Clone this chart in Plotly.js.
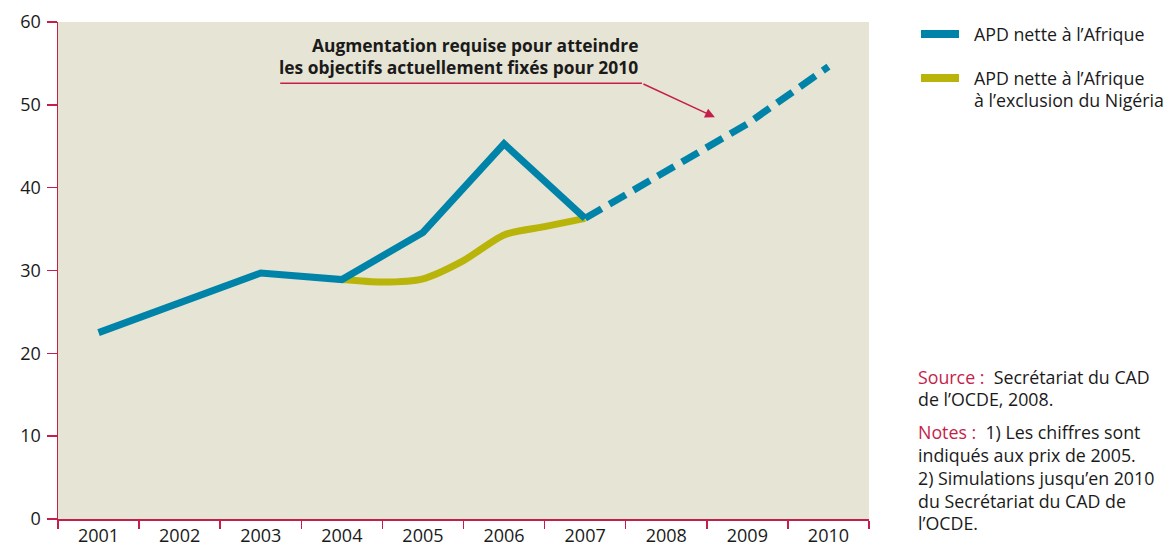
<!DOCTYPE html>
<html>
<head>
<meta charset="utf-8">
<script src="https://cdn.plot.ly/plotly-3.0.1.min.js"></script>
<style>html,body{margin:0;padding:0;background:#fff;}#chart{width:1166px;height:546px;}</style>
</head>
<body>
<div id="chart"></div>
<script>
// ---- data ----
const years = [2001, 2002, 2003, 2004, 2005, 2006, 2007, 2008, 2009, 2010];
const yearLabels = ["2001","2002","2003","2004","2005","2006","2007","2008","2009","2010"];
const apdYears = [2001, 2002, 2003, 2004, 2005, 2006, 2007];
const apdValues = [22.5, 26.1, 29.7, 28.9, 34.6, 45.3, 36.3];
const projYears = [2007, 2008, 2009, 2010];
const projValues = [36.3, 41.9, 47.7, 54.6];
const exclYears = [2004, 2004.5, 2005, 2005.5, 2006, 2006.5, 2007];
const exclValues = [28.9, 28.6, 29.0, 31.2, 34.3, 35.3, 36.3];
const seriesNames = ["APD nette à l’Afrique", "APD nette à l’Afrique", "à l’exclusion du Nigéria"];

const BLUE = "#0083a8", OLIVE = "#b8b40a", CRIMSON = "#c41e4a", TXT = "#1a1a1a";
const FONT = "Open Sans, Noto Sans, sans-serif";

const traces = [
  {x: exclYears, y: exclValues, mode: "lines", line: {color: OLIVE, width: 7, shape: "spline", smoothing: 0.7}, hoverinfo: "skip"},
  {x: apdYears, y: apdValues, mode: "lines", line: {color: BLUE, width: 7}, hoverinfo: "skip"},
  {x: projYears, y: projValues, mode: "lines", line: {color: BLUE, width: 7, dash: "19px,9px"}, hoverinfo: "skip"}
];

const boundaries = [];
for (let i = 0; i <= years.length; i++) boundaries.push(years[0] - 0.5 + i);

// pixel helpers for paper coords
const L = 58, R = 869, T = 22, B = 519;
const px = v => (v - L) / (R - L);
const py = v => (B - v) / (B - T);

const noteLines = [
  {y: 377, html: "<span style='color:" + CRIMSON + "'>Source :</span>  Secrétariat du CAD"},
  {y: 399, html: "de l’OCDE, 2008."},
  {y: 432, html: "<span style='color:" + CRIMSON + "'>Notes :</span>  1) Les chiffres sont"},
  {y: 455, html: "indiqués aux prix de 2005."},
  {y: 478, html: "2) Simulations jusqu’en 2010"},
  {y: 501, html: "du Secrétariat du CAD de"},
  {y: 523, html: "l’OCDE."}
];

const annotations = [
  {xref: "paper", yref: "paper", x: px(640), y: py(45), xanchor: "right", yanchor: "middle", showarrow: false,
   text: "<b>Augmentation requise pour atteindre</b>", font: {family: FONT, size: 17.4, color: TXT}},
  {xref: "paper", yref: "paper", x: px(640), y: py(67), xanchor: "right", yanchor: "middle", showarrow: false,
   text: "<b>les objectifs actuellement fixés pour 2010</b>", font: {family: FONT, size: 17.4, color: TXT}},
  {xref: "x", yref: "y", x: 2008.6, y: 48.5, ax: 2007.70, ay: 52.6, axref: "x", ayref: "y",
   showarrow: true, arrowhead: 2, arrowsize: 1.4, arrowwidth: 1.4, arrowcolor: CRIMSON, text: ""},
  {xref: "paper", yref: "paper", x: px(972), y: py(34), xanchor: "left", yanchor: "middle", showarrow: false,
   text: seriesNames[0], font: {family: FONT, size: 17.8, color: TXT}},
  {xref: "paper", yref: "paper", x: px(972), y: py(78), xanchor: "left", yanchor: "middle", showarrow: false,
   text: seriesNames[1], font: {family: FONT, size: 17.8, color: TXT}},
  {xref: "paper", yref: "paper", x: px(972), y: py(100), xanchor: "left", yanchor: "middle", showarrow: false,
   text: seriesNames[2], font: {family: FONT, size: 17.8, color: TXT}}
];
noteLines.forEach(n => annotations.push({
  xref: "paper", yref: "paper", x: px(916), y: py(n.y), xanchor: "left", yanchor: "middle", showarrow: false,
  text: n.html, font: {family: FONT, size: 17.8, color: TXT}
}));

const shapes = [
  {type: "line", xref: "x", yref: "y", x0: 2003.24, x1: 2007.70, y0: 52.6, y1: 52.6, line: {color: CRIMSON, width: 1.4}},
  {type: "line", xref: "paper", yref: "paper", x0: px(921), x1: px(959), y0: py(34), y1: py(34), line: {color: BLUE, width: 8}},
  {type: "line", xref: "paper", yref: "paper", x0: px(921), x1: px(959), y0: py(78), y1: py(78), line: {color: OLIVE, width: 8}}
];

const layout = {
  width: 1166, height: 546,
  margin: {l: L, r: 1166 - R, t: T, b: 546 - B, pad: 0},
  paper_bgcolor: "#ffffff",
  plot_bgcolor: "#e6e4d4",
  showlegend: false,
  font: {family: FONT, size: 18, color: TXT},
  xaxis: {
    range: [2000.5, 2010.5], tickvals: years, ticktext: yearLabels, ticks: "",
    showgrid: false, zeroline: false, showline: true, linecolor: CRIMSON, linewidth: 1.5,
    tickfont: {family: FONT, size: 18, color: TXT}, automargin: false,
    minor: {tickvals: boundaries, ticks: "outside", ticklen: 8, tickcolor: CRIMSON, tickwidth: 1.5, showgrid: false},
    fixedrange: true
  },
  yaxis: {
    range: [0, 60], dtick: 10, ticks: "outside", ticklen: 10, tickcolor: CRIMSON, tickwidth: 1.5,
    showgrid: false, zeroline: false, showline: true, linecolor: CRIMSON, linewidth: 1.5,
    tickfont: {family: FONT, size: 18, color: TXT}, automargin: false, ticklabelstandoff: 2,
    fixedrange: true
  },
  annotations: annotations,
  shapes: shapes
};

Plotly.newPlot("chart", traces, layout, {displayModeBar: false, staticPlot: true});
</script>
</body>
</html>
